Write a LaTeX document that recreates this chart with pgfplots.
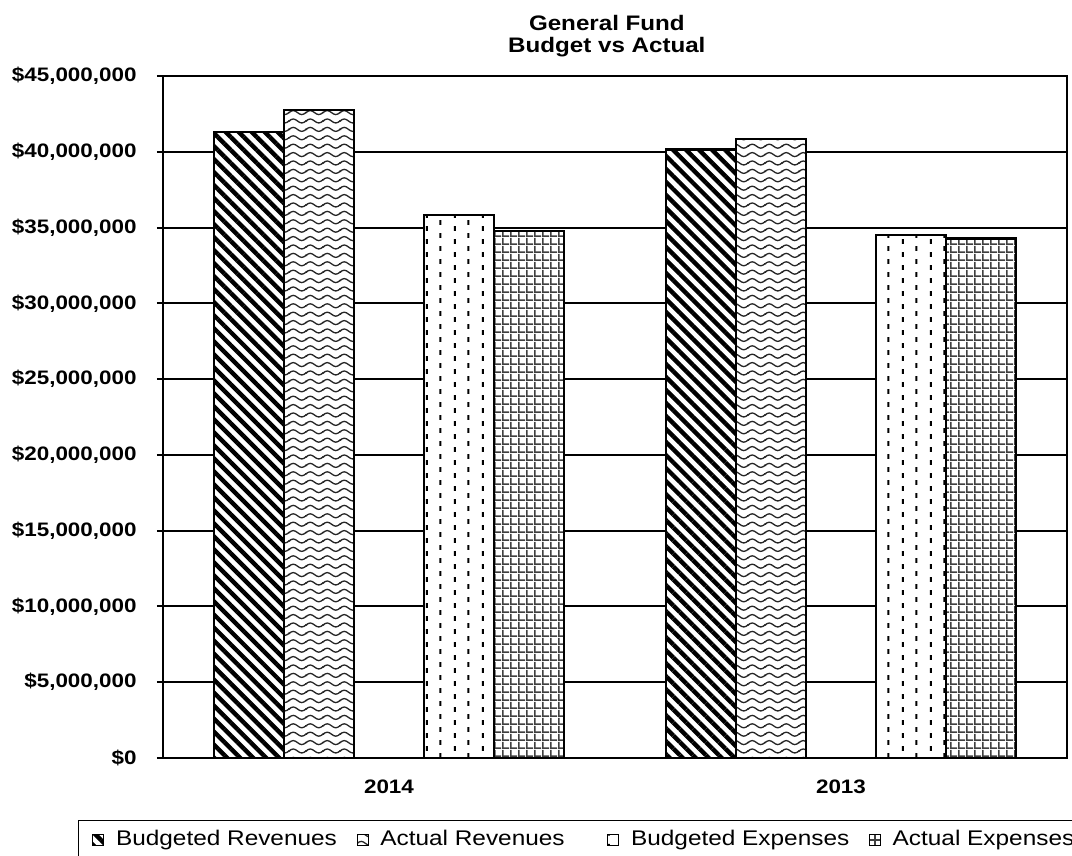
\documentclass[border=0pt]{standalone}
\usepackage{fontspec}
\setmainfont[FakeStretch=1.15]{Liberation Sans}
\usepackage{pgfplots}
\pgfplotsset{compat=1.18}
\usetikzlibrary{patterns.meta}

\tikzdeclarepattern{
  name=waves,
  type=uncolored,
  bounding box={(-0.5pt,0pt) and (9pt,4.2pt)},
  tile size={(8.5pt,4.2pt)},
  code={
    \draw[line width=0.65pt] (-0.5pt,2.1pt) -- (0pt,2.1pt) sin (2.125pt,3.1pt) cos (4.25pt,2.1pt) sin (6.375pt,1.1pt) cos (8.5pt,2.1pt) -- (9pt,2.1pt);
  }
}
\tikzdeclarepattern{
  name=vdashes,
  type=uncolored,
  bounding box={(0pt,0pt) and (14pt,6.5pt)},
  tile size={(14pt,6.5pt)},
  code={
    \fill (3pt,0.6pt) rectangle (4.1pt,3.1pt);
    \fill (10pt,3.85pt) rectangle (11.1pt,6.35pt);
  }
}
\tikzdeclarepattern{
  name=mygrid,
  type=uncolored,
  bounding box={(0pt,0pt) and (3.8pt,3.8pt)},
  tile size={(3.8pt,3.8pt)},
  code={
    \fill (0pt,0pt) rectangle (3.8pt,0.9pt);
    \fill (0pt,0pt) rectangle (0.9pt,3.8pt);
  }
}

\pgfplotstableread{
x BR AR BE AE
0 41310000 42740000 35820000 34760000
1 40150000 40830000 34500000 34280000
}\datatable

\begin{document}
\begin{tikzpicture}
\begin{axis}[
  name=ax,
  scale only axis,
  width=452pt, height=341pt,
  xmin=-0.5, xmax=1.5,
  ymin=0, ymax=45000000,
  xtick={0,1},
  xticklabels={2014,2013},
  xtick style={draw=none},
  ytick={0,5000000,10000000,15000000,20000000,25000000,30000000,35000000,40000000,45000000},
  scaled y ticks=false,
  yticklabel={\$\pgfmathprintnumber[fixed,precision=0,1000 sep={,},assume math mode=true]{\tick}},
  ytick pos=left,
  xtick pos=bottom,
  tick align=outside,
  major tick length=3pt,
  ytick style={black, line width=1pt},
  ymajorgrids,
  grid style={black, line width=1pt},
  axis line style={black, line width=1.4pt},
  tick label style={font=\bfseries\fontsize{9.75}{11}\selectfont},
  yticklabel style={inner sep=0pt, anchor=east, xshift=-10pt},
  xticklabel style={inner sep=0pt, anchor=north, yshift=-7.5pt},
  title={General Fund\\Budget vs Actual},
  title style={at={(0.491,1)}, anchor=south, align=center, inner sep=0pt, yshift=3.5pt,
    font=\bfseries\fontsize{10.5}{11}\selectfont},
  legend columns=-1,
  legend image code/.code={\draw[#1, line width=0.5pt] (0pt,-2.7pt) rectangle (5.5pt,2.7pt);
    \path[draw=none, fill=none] (0pt,0pt) (9pt,0pt);},
  legend style={at={(rel axis cs:-0.094,0)}, anchor=north west, yshift=-31pt,
    draw=black, line width=0.6pt, inner xsep=6.5pt, inner ysep=3pt,
    font=\fontsize{10.6}{12}\selectfont,
    /tikz/every even column/.append style={column sep=7.5pt}},
]
\addplot[ybar, bar width=35pt, bar shift=-70pt, draw=black, line width=1.2pt, fill=white,
  postaction={pattern={Lines[angle=-45,distance=4.6pt,line width=2.2pt]}}]
  table[x=x, y=BR] {\datatable};
\addlegendentry{Budgeted Revenues}
\addplot[ybar, bar width=35pt, bar shift=-35pt, draw=black, line width=1.2pt, fill=white,
  postaction={pattern=waves, pattern color=black!85}]
  table[x=x, y=AR] {\datatable};
\addlegendentry{Actual Revenues}
\addlegendimage{empty legend}
\addlegendentry{\hspace{16pt}}
\addplot[ybar, bar width=35pt, bar shift=35pt, draw=black, line width=1.2pt, fill=white,
  postaction={pattern=vdashes, pattern color=black}]
  table[x=x, y=BE] {\datatable};
\addlegendentry{Budgeted Expenses}
\addplot[ybar, bar width=35pt, bar shift=70pt, draw=black, line width=1.2pt, fill=white,
  postaction={pattern=mygrid, pattern color=black!75}]
  table[x=x, y=AE] {\datatable};
\addlegendentry{Actual Expenses}
\end{axis}
\pgfresetboundingbox
\path ([shift={(-81.5pt,-49pt)}]ax.south west) rectangle ([shift={(454.5pt,379pt)}]ax.south west);
\end{tikzpicture}
\end{document}
